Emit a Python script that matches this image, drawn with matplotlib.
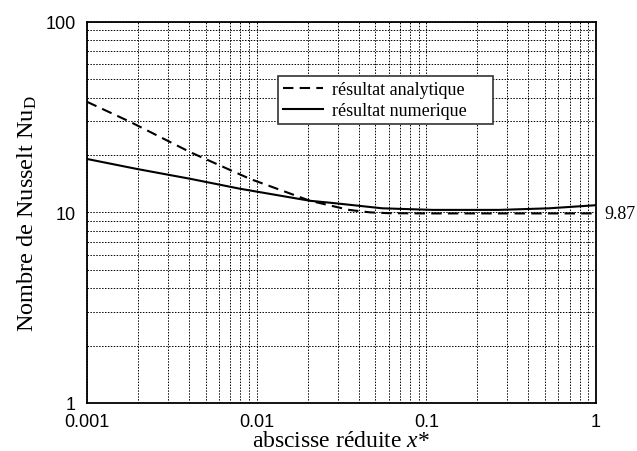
import matplotlib
matplotlib.use("Agg")
import matplotlib.pyplot as plt
from matplotlib.ticker import LogLocator, FixedLocator, FixedFormatter, NullFormatter

plt.rcParams['mathtext.fontset'] = 'custom'
plt.rcParams['mathtext.rm'] = 'Liberation Serif'
plt.rcParams['mathtext.it'] = 'Liberation Serif:italic'

# Data
x_analytic = [0.001, 0.0018, 0.00405, 0.0091, 0.0206, 0.035, 0.0465, 0.06, 0.1, 0.3, 1.0]
nu_analytic = [38.0, 29.8, 20.7, 15.0, 11.5, 10.3, 10.0, 9.9, 9.87, 9.87, 9.87]

x_numeric = [0.001, 0.00196, 0.00405, 0.00797, 0.0206, 0.028, 0.055, 0.109, 0.27, 0.53, 1.0]
nu_numeric = [19.05, 16.9, 15.0, 13.3, 11.5, 11.2, 10.5, 10.3, 10.3, 10.5, 10.9]

x_ticks = [0.001, 0.01, 0.1, 1]
x_tick_labels = ['0.001', '0.01', '0.1', '1']
y_ticks = [1, 10, 100]
y_tick_labels = ['1', '10', '100']
asymptote = 9.87

fig = plt.figure(figsize=(6.37, 4.52), dpi=100)
ax = fig.add_axes([0.1366, 0.1062, 0.799, 0.8436])

ax.plot(x_analytic, nu_analytic, color='black', linestyle=(0, (5, 3)), linewidth=1.5,
        label='résultat analytique')
ax.plot(x_numeric, nu_numeric, color='black', linestyle='-', linewidth=1.5,
        label='résultat numerique')

ax.set_xscale('log')
ax.set_yscale('log')
ax.set_xlim(0.001, 1)
ax.set_ylim(1, 100)

ax.xaxis.set_major_locator(FixedLocator(x_ticks))
ax.xaxis.set_major_formatter(FixedFormatter(x_tick_labels))
ax.yaxis.set_major_locator(FixedLocator(y_ticks))
ax.yaxis.set_major_formatter(FixedFormatter(y_tick_labels))
ax.xaxis.set_minor_locator(LogLocator(base=10, subs=range(2, 10)))
ax.yaxis.set_minor_locator(LogLocator(base=10, subs=range(2, 10)))
ax.xaxis.set_minor_formatter(NullFormatter())
ax.yaxis.set_minor_formatter(NullFormatter())

ax.tick_params(axis='x', which='both', length=0, pad=7)
ax.tick_params(axis='y', which='both', length=0, pad=8)
for lab in ax.get_xticklabels() + ax.get_yticklabels():
    lab.set_fontfamily('Liberation Sans')
    lab.set_fontsize(13)

ax.grid(True, which='both', color='black', linestyle=(0, (1.5, 1.5)), linewidth=0.7)
for sp in ax.spines.values():
    sp.set_linewidth(1.3)
    sp.set_color('black')

ax.set_xlabel('abscisse réduite $x$*', fontfamily='Liberation Serif', fontsize=17, labelpad=0)
ax.set_ylabel('Nombre de Nusselt Nu$_\\mathrm{D}$', fontfamily='Liberation Serif', fontsize=17.5, labelpad=5)

ax.annotate(f'{asymptote:g}', xy=(1, asymptote), xytext=(6, 0), textcoords='offset points',
            va='center', ha='left', fontfamily='Liberation Serif', fontsize=13, annotation_clip=False)

leg = ax.legend(loc='upper left', bbox_to_anchor=(0.375, 0.7576, 0.4224, 0.1), mode='expand',
                prop={'family': 'Liberation Serif', 'size': 13},
                fancybox=False, framealpha=1, edgecolor='#333333', handlelength=2.2, borderpad=0.3,
                labelspacing=0.2, handletextpad=0.5, borderaxespad=0, shadow=False)
leg.get_frame().set_linewidth(1.2)

fig.savefig('out.png', dpi=100)
